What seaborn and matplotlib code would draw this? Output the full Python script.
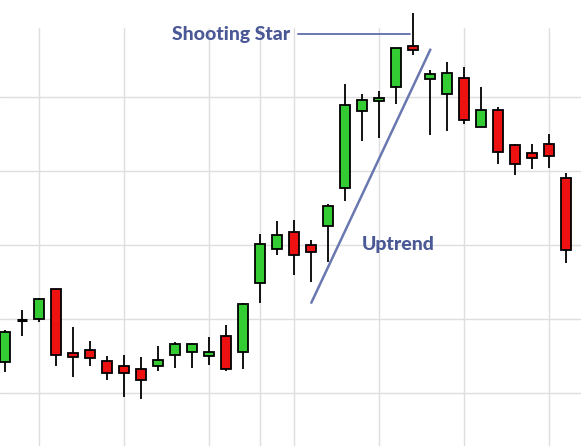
import matplotlib
matplotlib.use("Agg")
import matplotlib.pyplot as plt
import seaborn as sns
import pandas as pd
import numpy as np

# OHLC values (price scale: gridlines at 100..140)
opens = [104.2, 109.8, 110.0, 114.0, 105.4, 105.8, 104.3, 103.6, 103.3, 103.7,
         105.2, 105.5, 105.0, 107.7, 105.5, 114.8, 119.4, 121.7, 120.0, 122.5,
         127.7, 138.1, 139.4, 141.3, 146.9, 142.4, 140.4, 142.5, 135.9, 138.3,
         133.5, 132.4, 133.6, 129.1]
closes = [108.2, 109.8, 112.7, 105.1, 104.8, 104.7, 102.7, 102.7, 101.7, 104.4,
          106.6, 106.6, 105.6, 103.3, 112.0, 120.1, 121.4, 118.6, 119.0, 125.2,
          138.9, 139.6, 139.8, 146.6, 146.3, 143.1, 143.2, 136.9, 138.3, 132.5,
          130.9, 131.7, 132.0, 119.3]
highs = [108.5, 111.2, 112.8, 114.0, 108.9, 107.0, 105.0, 105.1, 104.9, 106.4,
         106.9, 106.8, 107.6, 109.2, 112.1, 121.5, 123.2, 123.4, 120.7, 125.6,
         141.8, 140.4, 140.8, 146.6, 151.4, 143.7, 144.7, 144.0, 141.4, 138.6,
         133.7, 133.7, 135.0, 129.7]
lows = [102.8, 107.7, 109.6, 103.6, 102.2, 103.6, 101.8, 99.5, 99.2, 103.0,
        103.4, 103.4, 103.8, 103.0, 103.3, 112.2, 118.6, 115.9, 115.0, 117.7,
        125.9, 134.0, 134.4, 139.1, 145.7, 134.9, 135.4, 136.4, 135.9, 131.0,
        129.4, 130.2, 130.4, 117.5]

grid_x = [2, 7, 12, 15, 17, 22, 27, 32]
grid_y = [100, 110, 120, 130, 140]

df = pd.DataFrame({"open": opens, "high": highs, "low": lows, "close": closes})
df["day"] = np.arange(len(df))

sns.set_theme(style="whitegrid", rc={"grid.color": "#dedede", "grid.linewidth": 1.0})
plt.rcParams['font.family'] = ['Lato', 'DejaVu Sans']

fig = plt.figure(figsize=(5.81, 4.46), dpi=100)
ax = fig.add_axes([0, 0, 1, 1])

# wicks
ax.vlines(df["day"], df["low"], df["high"], color="black", linewidth=1.3, zorder=2)

# bodies
up = df["close"] > df["open"]
down = df["close"] < df["open"]
flat = df["close"] == df["open"]
ax.bar(df["day"][up], (df["close"] - df["open"])[up], bottom=df["open"][up],
       width=0.6, color="#33cc33", edgecolor="black", linewidth=1.3, zorder=3)
ax.bar(df["day"][down], (df["close"] - df["open"])[down], bottom=df["open"][down],
       width=0.6, color="#ee1111", edgecolor="black", linewidth=1.3, zorder=3)
ax.hlines(df["open"][flat], df["day"][flat] - 0.3, df["day"][flat] + 0.3,
          color="black", linewidth=2.2, zorder=3)

ax.set_xlim(-0.31, 33.86)
ax.set_ylim(92.84, 153.1)
ax.set_xticks(grid_x)
ax.set_yticks(grid_y)
ax.set_xticklabels([])
ax.set_yticklabels([])
for s in ax.spines.values():
    s.set_visible(False)

# blank strip at the top where the grid stops
ax.axhspan(149.4, 154, color="white", zorder=1)

# annotations
ax.text(13.26, 148.4, "Shooting Star", color="#4a5896", fontsize=14,
        fontweight="black", ha="center", va="center", zorder=4)
ax.plot([17.2, 23.8], [148.5, 148.5], color="#6a78b0", linewidth=1.4, zorder=4)
ax.plot([18.0, 25.0], [112.2, 146.4], color="#6a78b0", linewidth=1.8, zorder=4)
ax.text(23.1, 120.1, "Uptrend", color="#4a5896", fontsize=14,
        fontweight="black", ha="center", va="center", zorder=4)

fig.savefig("out.png", dpi=100)
